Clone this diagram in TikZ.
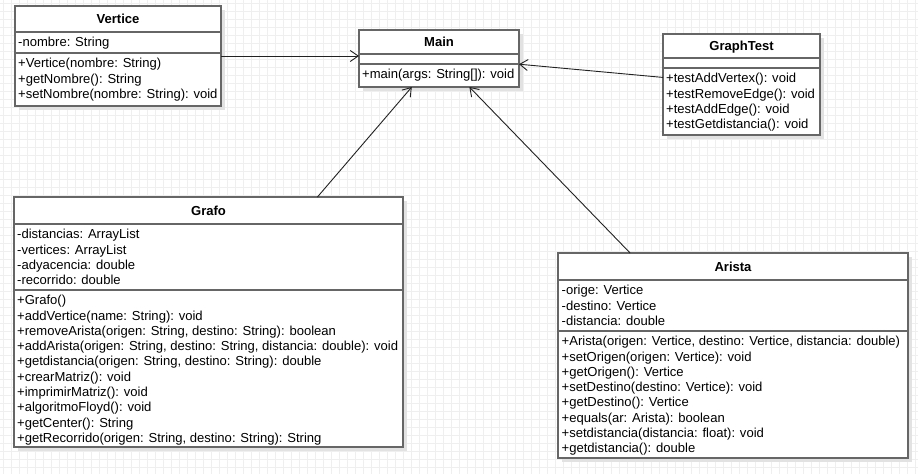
\documentclass[tikz,border=0pt]{standalone}
\usepackage{fontspec}
\setmainfont{Liberation Sans}
\usetikzlibrary{arrows.meta,shadows,calc}
\newcommand\umlfont{\fontsize{13.05}{15.3}\selectfont}
\definecolor{gridgray}{HTML}{EFEFEF}
\definecolor{boxgray}{HTML}{666666}
\definecolor{shadowgray}{HTML}{E2E2E2}
\definecolor{linkgray}{HTML}{222222}
\tikzset{
  classbox/.style={draw=boxgray, line width=1.3pt, fill=white, inner sep=0pt,
    outer sep=0pt, anchor=north west,
    drop shadow={shadow xshift=4pt, shadow yshift=-4pt, fill=shadowgray, opacity=1}},
  classname/.style={anchor=base, inner sep=0pt, font=\umlfont\bfseries},
  members/.style={anchor=north west, inner sep=0pt, align=left, font=\umlfont},
  divider/.style={draw=boxgray, line width=1.3pt},
  uses/.style={draw=linkgray, line width=0.9pt, -{Straight Barb[length=8pt,width=11pt]}},
  gridline/.style={draw=gridgray, line width=0.8pt}
}
\begin{document}
\begin{tikzpicture}[x=1pt,y=-1pt]
  % page and background grid
  \useasboundingbox (0,0) rectangle (918,474);
  \fill[white] (0,0) rectangle (918,474);
  \foreach \x in {3.5,11.5,...,918} \draw[gridline] (\x,0) -- (\x,474);
  \foreach \y in {3.5,11.5,...,474} \draw[gridline] (0,\y) -- (918,\y);

  % class Vertice
  \node[classbox, minimum width=206pt, minimum height=100pt] (vertice) at (15,6) {};
  \node[classname] (verticeT) at ($(vertice.north)+(0,17.6)$) {Vertice};
  \draw[divider] ($(vertice.north west)+(0,26)$) -- ($(vertice.north east)+(0,26)$);
  \draw[divider] ($(vertice.north west)+(0,47)$) -- ($(vertice.north east)+(0,47)$);
  \node[members] (verticeA) at ($(vertice.north west)+(3,29.8)$) {\strut-nombre: String};
  \node[members] (verticeM) at ($(vertice.north west)+(3,50.8)$)
    {\strut+Vertice(nombre: String)\\+getNombre(): String\\+setNombre(nombre: String): void};

  % class Main
  \node[classbox, minimum width=160pt, minimum height=57pt] (main) at (359,30) {};
  \node[classname] (mainT) at ($(main.north)+(0,16.6)$) {Main};
  \draw[divider] ($(main.north west)+(0,24)$) -- ($(main.north east)+(0,24)$);
  \draw[divider] ($(main.north west)+(0,34)$) -- ($(main.north east)+(0,34)$);
  \node[members] (mainM) at ($(main.north west)+(3,37.8)$) {\strut+main(args: String[]): void};

  % class GraphTest
  \node[classbox, minimum width=157pt, minimum height=101pt] (graphtest) at (663,34) {};
  \node[classname] (graphtestT) at ($(graphtest.north)+(0,16.6)$) {GraphTest};
  \draw[divider] ($(graphtest.north west)+(0,24)$) -- ($(graphtest.north east)+(0,24)$);
  \draw[divider] ($(graphtest.north west)+(0,34)$) -- ($(graphtest.north east)+(0,34)$);
  \node[members] (graphtestM) at ($(graphtest.north west)+(3,37.8)$)
    {\strut+testAddVertex(): void\\+testRemoveEdge(): void\\+testAddEdge(): void\\+testGetdistancia(): void};

  % class Grafo
  \node[classbox, minimum width=389pt, minimum height=250pt] (grafo) at (14,197) {};
  \node[classname] (grafoT) at ($(grafo.north)+(0,18.6)$) {Grafo};
  \draw[divider] ($(grafo.north west)+(0,27)$) -- ($(grafo.north east)+(0,27)$);
  \draw[divider] ($(grafo.north west)+(0,93)$) -- ($(grafo.north east)+(0,93)$);
  \node[members] (grafoA) at ($(grafo.north west)+(3,30.8)$)
    {\strut-distancias: ArrayList\\-vertices: ArrayList\\-adyacencia: double\\-recorrido: double};
  \node[members] (grafoM) at ($(grafo.north west)+(3,96.8)$)
    {\strut+Grafo()\\+addVertice(name: String): void\\+removeArista(origen: String, destino: String): boolean\\+addArista(origen: String, destino: String, distancia: double): void\\+getdistancia(origen: String, destino: String): double\\+crearMatriz(): void\\+imprimirMatriz(): void\\+algoritmoFloyd(): void\\+getCenter(): String\\+getRecorrido(origen: String, destino: String): String};

  % class Arista
  \node[classbox, minimum width=350pt, minimum height=205pt] (arista) at (558,253) {};
  \node[classname] (aristaT) at ($(arista.north)+(0,18.6)$) {Arista};
  \draw[divider] ($(arista.north west)+(0,27)$) -- ($(arista.north east)+(0,27)$);
  \draw[divider] ($(arista.north west)+(0,78)$) -- ($(arista.north east)+(0,78)$);
  \node[members] (aristaA) at ($(arista.north west)+(3.5,30.8)$)
    {\strut-orige: Vertice\\-destino: Vertice\\-distancia: double};
  \node[members] (aristaM) at ($(arista.north west)+(3.5,81.8)$)
    {\strut+Arista(origen: Vertice, destino: Vertice, distancia: double)\\+setOrigen(origen: Vertice): void\\+getOrigen(): Vertice\\+setDestino(destino: Vertice): void\\+getDestino(): Vertice\\+equals(ar: Arista): boolean\\+setdistancia(distancia: float): void\\+getdistancia(): double};

  % dependencies on Main
  \draw[uses] (vertice.east) -- (vertice.east -| main.west);
  \draw[uses] ($(graphtest.north west)!0.43!(graphtest.south west)$) -- ($(main.north east)!0.6!(main.south east)$);
  \draw[uses] ($(grafo.north west)!0.78!(grafo.north east)$) -- ($(main.south west)!0.33!(main.south east)$);
  \draw[uses] ($(arista.north west)!0.206!(arista.north east)$) -- ($(main.south west)!0.69!(main.south east)$);
\end{tikzpicture}
\end{document}
